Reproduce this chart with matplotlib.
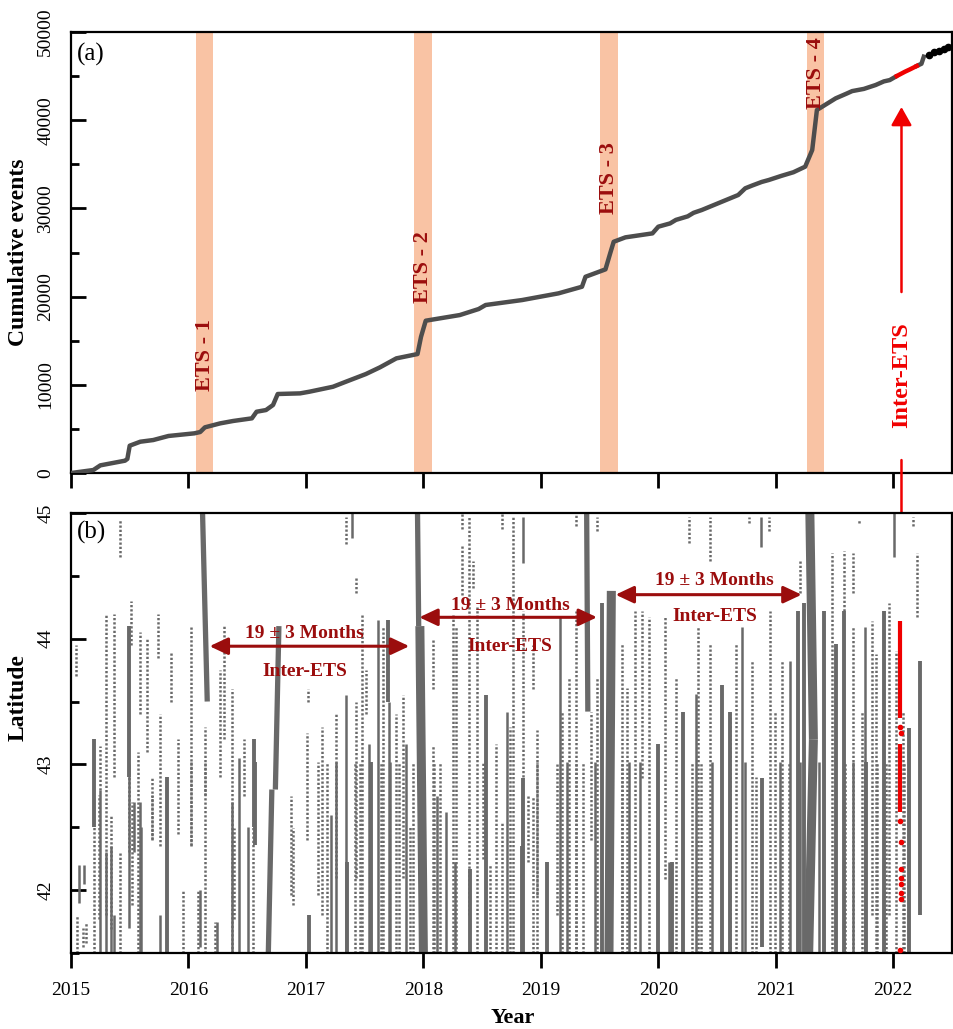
import numpy as np
import matplotlib
matplotlib.use("Agg")
import matplotlib.pyplot as plt
from matplotlib.ticker import MultipleLocator

plt.rcParams["font.family"] = ["Liberation Serif", "DejaVu Serif"]

# ---- panel (a): cumulative events ----
cum_year = [2015.00, 2015.19, 2015.25, 2015.46, 2015.48, 2015.50, 2015.59, 2015.70,
            2015.83, 2016.05, 2016.10, 2016.14, 2016.27, 2016.38, 2016.54, 2016.58,
            2016.66, 2016.72, 2016.76, 2016.95, 2017.03, 2017.23, 2017.34, 2017.51,
            2017.63, 2017.77, 2017.95, 2017.98, 2018.02, 2018.31, 2018.47, 2018.53,
            2018.84, 2019.15, 2019.35, 2019.38, 2019.55, 2019.59, 2019.62, 2019.72,
            2019.95, 2020.00, 2020.10, 2020.15, 2020.25, 2020.30, 2020.37, 2020.68,
            2020.74, 2020.80, 2020.88, 2020.94, 2021.05, 2021.15, 2021.25, 2021.31,
            2021.35, 2021.51, 2021.60, 2021.65, 2021.75, 2021.85, 2021.92, 2021.97,
            2022.03]
cum_events = [0, 340, 870, 1400, 1600, 3100, 3550, 3740,
              4200, 4500, 4650, 5180, 5630, 5900, 6200, 6950,
              7140, 7710, 8960, 9030, 9220, 9780, 10350, 11220,
              11980, 13000, 13490, 15450, 17270, 17910, 18590, 19050,
              19610, 20370, 21120, 22250, 23090, 24900, 26220, 26720,
              27170, 27930, 28300, 28700, 29100, 29500, 29820, 31520,
              32280, 32600, 33000, 33220, 33700, 34100, 34730, 36620,
              41160, 42480, 43000, 43300, 43550, 43990, 44400, 44550,
              45010]
red_year = [2022.03, 2022.10, 2022.14, 2022.20]
red_events = [45010, 45500, 45750, 46150]
tail_year = [2022.20, 2022.24, 2022.26]
tail_events = [46150, 46400, 47200]
dot_year = [2022.30, 2022.35, 2022.39, 2022.43, 2022.47]
dot_events = [47350, 47700, 47900, 48050, 48300]

ets_start = [2016.068, 2017.923, 2019.503, 2021.262]
ets_end = [2016.212, 2018.073, 2019.653, 2021.409]
ets_names = ["ETS - 1", "ETS - 2", "ETS - 3", "ETS - 4"]
ets_label_x = [2016.14, 2018.00, 2019.58, 2021.34]
ets_label_y = [13380, 23360, 33450, 45350]

# ---- panel (b): tremor latitude streaks ----
# sparse (dotted) streaks: year, lat low, lat high
sp_t = [2015.04, 2015.05, 2015.10, 2015.20, 2015.25, 2015.30, 2015.37, 2015.42, 2015.42,
        2015.49, 2015.51, 2015.57, 2015.59, 2015.65, 2015.69, 2015.74, 2015.76, 2015.85,
        2015.91, 2015.95, 2016.02, 2016.08, 2016.14, 2016.23, 2016.27, 2016.30, 2016.37,
        2016.47, 2016.55, 2016.87, 2017.02, 2017.01, 2017.14, 2017.26, 2017.34, 2017.43,
        2017.43, 2017.48, 2017.51, 2017.66, 2017.77, 2017.83, 2017.89, 2018.08, 2018.08,
        2018.25, 2018.28, 2018.33, 2018.33, 2018.39, 2018.42, 2018.46, 2018.62, 2018.67,
        2018.76, 2018.74, 2018.85, 2018.93, 2018.93, 2018.97, 2019.18, 2019.24, 2019.30,
        2019.30, 2019.43, 2019.48, 2019.48, 2019.69, 2019.73, 2019.80, 2019.86, 2019.92,
        2020.06, 2020.15, 2020.26, 2020.34, 2020.44, 2020.44, 2020.61, 2020.66, 2020.77,
        2020.80, 2020.94, 2020.95, 2020.99, 2021.05, 2021.21, 2021.48, 2021.58, 2021.66,
        2021.66, 2021.71, 2021.73, 2021.82, 2021.85, 2021.96, 2022.02, 2022.08, 2022.17,
        2022.20,
        2015.13, 2015.24, 2015.34, 2015.52, 2015.69, 2016.02, 2016.14, 2016.39, 2016.89,
        2017.10, 2017.18, 2017.42, 2017.46, 2017.64, 2017.79, 2017.91, 2018.09, 2018.14,
        2018.51, 2018.57, 2018.67, 2018.89, 2018.97, 2019.14, 2019.30, 2019.36, 2019.69,
        2020.29, 2020.36, 2020.83, 2021.11, 2021.59, 2021.86, 2021.94, 2022.09]
sp_lo = [43.70, 41.50, 41.55, 41.50, 42.80, 41.80, 42.90, 44.65, 41.50,
         42.30, 43.95, 41.50, 43.40, 43.10, 42.40, 43.85, 42.35, 43.50,
         42.45, 41.50, 42.35, 41.50, 41.50, 41.50, 42.90, 43.20, 41.50,
         42.75, 41.50, 41.96, 43.50, 42.40, 41.80, 42.10, 44.75, 44.36,
         42.10, 41.50, 43.40, 41.50, 41.50, 42.10, 41.50, 43.60, 41.50,
         41.50, 41.50, 44.35, 44.87, 41.80, 44.40, 41.50, 41.50, 44.87,
         41.50, 41.50, 42.90, 43.60, 41.50, 41.50, 41.50, 41.50, 44.90,
         41.50, 42.40, 44.86, 41.50, 41.50, 41.50, 41.50, 42.89, 41.50,
         42.09, 41.50, 44.76, 41.50, 44.62, 41.50, 41.50, 41.50, 44.92,
         41.50, 44.86, 41.50, 41.50, 41.50, 44.36, 41.50, 44.22, 44.36,
         41.50, 44.92, 41.50, 41.80, 41.50, 41.80, 41.50, 41.50, 44.90,
         44.17,
         41.58, 41.77, 41.69, 41.88, 42.41, 42.36, 42.76, 41.77, 41.88,
         41.96, 41.50, 41.50, 41.50, 41.50, 41.50, 41.50, 41.50, 41.50,
         42.25, 41.50, 41.50, 42.22, 41.96, 41.80, 41.50, 41.50, 41.50,
         41.50, 41.50, 41.50, 41.50, 41.50, 41.50, 41.50, 41.50]
sp_hi = [43.95, 41.80, 41.70, 42.50, 43.15, 44.20, 44.20, 44.95, 42.30,
         42.90, 44.30, 43.10, 44.05, 44.00, 42.90, 44.20, 43.40, 43.90,
         43.20, 42.00, 44.10, 42.00, 43.30, 41.75, 43.75, 44.10, 43.60,
         43.20, 42.50, 42.75, 43.60, 43.25, 43.30, 43.40, 44.97, 44.50,
         43.50, 44.20, 43.75, 44.10, 43.40, 43.55, 42.50, 44.00, 43.15,
         44.20, 44.10, 44.75, 45.00, 44.97, 44.62, 44.25, 43.16, 45.00,
         44.97, 43.30, 44.22, 43.95, 42.75, 43.27, 43.42, 43.69, 45.00,
         44.22, 43.42, 44.97, 43.69, 43.96, 43.61, 44.22, 44.22, 44.17,
         44.17, 43.69, 44.97, 44.09, 44.97, 43.96, 43.42, 43.96, 44.97,
         43.82, 44.97, 44.22, 43.42, 43.82, 44.62, 44.68, 44.70, 44.68,
         44.09, 44.95, 43.42, 44.14, 43.88, 44.28, 43.90, 43.42, 44.97,
         44.68,
         41.74, 42.76, 42.60, 42.70, 42.76, 43.02, 43.02, 42.49, 42.49,
         43.02, 43.02, 43.02, 43.02, 43.02, 43.02, 43.02, 43.02, 43.02,
         43.02, 42.20, 42.54, 42.76, 43.02, 43.02, 43.02, 43.02, 43.02,
         43.02, 43.02, 42.90, 43.02, 43.02, 43.02, 43.02, 43.02]

# dense (solid) streaks: year, lat low, lat high
dn_t = [2015.11, 2015.25, 2015.34, 2015.54, 2015.59, 2016.43, 2017.21, 2017.34,
        2017.39, 2017.54, 2017.61, 2017.71, 2017.85, 2018.12, 2018.19, 2018.71,
        2018.85, 2019.16, 2020.32, 2020.71, 2020.87, 2021.12, 2021.76, 2022.01,
        2015.07, 2015.30, 2015.37, 2015.49, 2015.60, 2015.76, 2016.10, 2016.24,
        2016.37, 2016.51, 2017.26, 2017.72, 2018.27, 2019.22, 2019.46, 2019.75,
        2019.84, 2020.09, 2020.46, 2020.74, 2021.04, 2021.21, 2021.37, 2021.66]
dn_lo = [42.05, 41.50, 41.50, 42.30, 41.50, 41.50, 41.50, 41.50,
         44.80, 41.50, 41.50, 41.50, 41.50, 41.50, 41.50, 41.50,
         44.60, 41.50, 41.50, 41.50, 44.73, 41.50, 41.50, 44.65,
         41.90, 41.50, 41.50, 41.70, 41.50, 41.50, 41.55, 41.50,
         41.50, 41.50, 41.50, 41.50, 41.50, 41.50, 41.50, 41.50,
         41.50, 41.50, 41.50, 41.50, 41.50, 41.50, 41.50, 41.50]
dn_hi = [42.20, 42.80, 42.35, 42.70, 42.70, 43.05, 42.60, 43.55,
         45.00, 43.16, 44.15, 43.50, 43.16, 42.75, 42.62, 43.42,
         44.97, 44.17, 43.56, 44.09, 44.97, 43.82, 44.09, 45.00,
         42.20, 42.30, 41.80, 43.00, 42.50, 41.80, 42.00, 41.75,
         42.70, 42.50, 43.02, 43.02, 42.22, 43.02, 43.02, 43.02,
         43.02, 42.22, 43.02, 43.02, 43.02, 43.02, 43.02, 43.02]

# heavy streaks (tremor bursts): year, lat low, lat high
hv_t = [2015.20, 2015.49, 2015.82, 2016.56, 2016.57, 2017.03, 2017.35, 2017.55,
        2017.70, 2018.40, 2018.53, 2018.84, 2018.85, 2019.05, 2019.52, 2020.00,
        2020.12, 2020.21, 2020.54, 2020.61, 2020.88, 2021.19, 2021.24, 2021.41,
        2021.51, 2021.58, 2021.77, 2021.92, 2022.13, 2022.23]
hv_lo = [42.50, 42.90, 41.50, 42.50, 42.36, 41.50, 41.50, 41.50,
         43.50, 41.50, 41.50, 41.50, 41.50, 41.50, 41.50, 41.50,
         41.50, 41.50, 41.50, 41.50, 41.55, 41.50, 41.50, 41.50,
         41.50, 41.50, 41.50, 41.50, 41.50, 41.80]
hv_hi = [43.20, 44.10, 42.90, 43.20, 43.02, 41.80, 42.22, 43.02,
         44.15, 42.17, 43.55, 42.35, 42.89, 42.22, 44.28, 43.16,
         42.22, 43.42, 43.63, 43.42, 42.89, 44.22, 44.28, 44.22,
         43.96, 44.22, 43.02, 44.22, 43.29, 43.82]

# migrating streaks: start year/lat -> end year/lat (minor and ETS main bursts)
mn_t0 = [2016.12, 2016.77, 2016.71, 2017.95, 2019.39]
mn_y0 = [45.00, 44.10, 42.80, 45.00, 45.00]
mn_t1 = [2016.16, 2016.74, 2016.68, 2017.96, 2019.40]
mn_y1 = [43.50, 42.80, 41.50, 44.10, 43.42]
mg_t0 = [2017.97, 2019.60, 2021.29, 2021.32]
mg_y0 = [44.10, 44.38, 45.00, 43.20]
mg_t1 = [2018.00, 2019.58, 2021.32, 2021.28]
mg_y1 = [41.50, 41.50, 43.20, 41.50]

# 2022 inter-ETS tremor (red)
rd_t = [2022.06, 2022.06]
rd_lo = [43.37, 42.62]
rd_hi = [44.14, 43.16]
rd_dot_t = [2022.06, 2022.065, 2022.06, 2022.07, 2022.065, 2022.07, 2022.065, 2022.07, 2022.065, 2022.06]
rd_dot_lat = [43.30, 43.25, 42.55, 42.38, 42.17, 42.10, 42.05, 41.98, 41.93, 41.52]

arrow_x0 = [2016.18, 2017.965, 2019.636]
arrow_x1 = [2017.88, 2019.478, 2021.22]
arrow_lat = [43.94, 44.17, 44.35]
note_x = [2016.99, 2018.74, 2020.48]
note_lat_top = [44.04, 44.26, 44.46]
note_lat_bot = [43.74, 43.94, 44.18]

peach = "#F9C3A4"
darkred = "#9B0D0D"
red = "#F00000"
gray = "#696969"

fig = plt.figure(figsize=(9.54, 10.29), dpi=100)
ax1 = fig.add_axes([0.0744, 0.5403, 0.9235, 0.4286])
ax2 = fig.add_axes([0.0744, 0.0739, 0.9235, 0.4276])

for s, e in zip(ets_start, ets_end):
    ax1.axvspan(s, e, color=peach, lw=0, zorder=1)
ax1.plot(cum_year, cum_events, color="#4D4D4D", lw=3.2, zorder=3, solid_capstyle="round")
ax1.plot(tail_year, tail_events, color="#4D4D4D", lw=3.2, zorder=3)
ax1.plot(red_year, red_events, color=red, lw=3.2, zorder=4)
ax1.plot(dot_year, dot_events, "o", color="black", ms=4.5, zorder=4)
for name, x, y in zip(ets_names, ets_label_x, ets_label_y):
    ax1.text(x, y, name, rotation=90, ha="center", va="center", color=darkred,
             fontsize=16, fontweight="bold", zorder=5)
ax1.text(2022.07, 11110, "Inter-ETS", rotation=90, ha="center", va="center",
         color=red, fontsize=17.5, fontweight="bold")
red_arrow = dict(arrowstyle="-|>,head_length=0.8,head_width=0.45",
                 color=red, lw=1.8, mutation_scale=14, shrinkA=0, shrinkB=0)
ax1.annotate("", xy=(2022.07, 41500), xytext=(2022.07, 20520), arrowprops=red_arrow)
ax1.annotate("", xy=(2022.07, 44.38), xycoords=ax2.transData,
             xytext=(2022.07, 1470), textcoords=ax1.transData,
             arrowprops=red_arrow, annotation_clip=False, zorder=10)
ax1.text(0.007, 0.948, "(a)", transform=ax1.transAxes, fontsize=18, va="center")
ax1.set_xlim(2015, 2022.5)
ax1.set_ylim(0, 50000)
ax1.yaxis.set_major_locator(MultipleLocator(10000))
ax1.yaxis.set_minor_locator(MultipleLocator(5000))
ax1.xaxis.set_major_locator(MultipleLocator(1))
ax1.tick_params(axis="x", labelbottom=False)

ax2.vlines(sp_t, sp_lo, sp_hi, color=gray, lw=1.8, linestyles=(0, (0.9, 0.8)), zorder=2)
ax2.vlines(dn_t, dn_lo, dn_hi, color=gray, lw=1.8, zorder=2)
ax2.vlines(hv_t, hv_lo, hv_hi, color=gray, lw=2.8, zorder=2)
for t0, y0, t1, y1 in zip(mn_t0, mn_y0, mn_t1, mn_y1):
    ax2.plot([t0, t1], [y0, y1], color=gray, lw=3.8, solid_capstyle="butt", zorder=2)
for t0, y0, t1, y1 in zip(mg_t0, mg_y0, mg_t1, mg_y1):
    ax2.plot([t0, t1], [y0, y1], color=gray, lw=6.5, solid_capstyle="butt", zorder=2)
ax2.vlines(rd_t, rd_lo, rd_hi, color=red, lw=3, zorder=3)
ax2.plot(rd_dot_t, rd_dot_lat, "o", color=red, ms=3, zorder=3)
for x0, x1, y in zip(arrow_x0, arrow_x1, arrow_lat):
    ax2.annotate("", xy=(x1, y), xytext=(x0, y),
                 arrowprops=dict(arrowstyle="<|-|>,head_length=0.85,head_width=0.4",
                                 color=darkred, lw=2.2, mutation_scale=13,
                                 shrinkA=0, shrinkB=0), zorder=6)
for x, yt, yb in zip(note_x, note_lat_top, note_lat_bot):
    ax2.text(x, yt, "19 ± 3 Months", ha="center", va="center", color=darkred,
             fontsize=14, fontweight="bold", zorder=6)
    ax2.text(x, yb, "Inter-ETS", ha="center", va="center", color=darkred,
             fontsize=14, fontweight="bold", zorder=6)
ax2.text(0.007, 0.955, "(b)", transform=ax2.transAxes, fontsize=18, va="center")
ax2.set_xlim(2015, 2022.5)
ax2.set_ylim(41.5, 45)
ax2.yaxis.set_major_locator(MultipleLocator(1))
ax2.yaxis.set_minor_locator(MultipleLocator(0.5))
ax2.xaxis.set_major_locator(MultipleLocator(1))
ax2.xaxis.set_major_formatter(plt.FuncFormatter(lambda v, p: f"{int(round(v))}"))

for ax in (ax1, ax2):
    for sp in ax.spines.values():
        sp.set_linewidth(1.6)
    ax.tick_params(axis="x", which="major", direction="out", length=11, width=2,
                   labelsize=14, pad=10, top=False)
    ax.tick_params(axis="y", which="major", direction="in", length=11, width=2,
                   labelsize=14, pad=12, labelrotation=90, right=False)
    ax.tick_params(axis="y", which="minor", direction="in", length=6, width=2, right=False)
    for lab in ax.get_yticklabels():
        lab.set_va("center")

fig.text(0.019, 0.755, "Cumulative events", rotation=90, ha="center", va="center",
         fontsize=17, fontweight="bold")
fig.text(0.019, 0.322, "Latitude", rotation=90, ha="center", va="center",
         fontsize=17, fontweight="bold")
fig.text(0.537, 0.011, "Year", ha="center", va="center", fontsize=16, fontweight="bold")

fig.savefig("out.png", dpi=100)
